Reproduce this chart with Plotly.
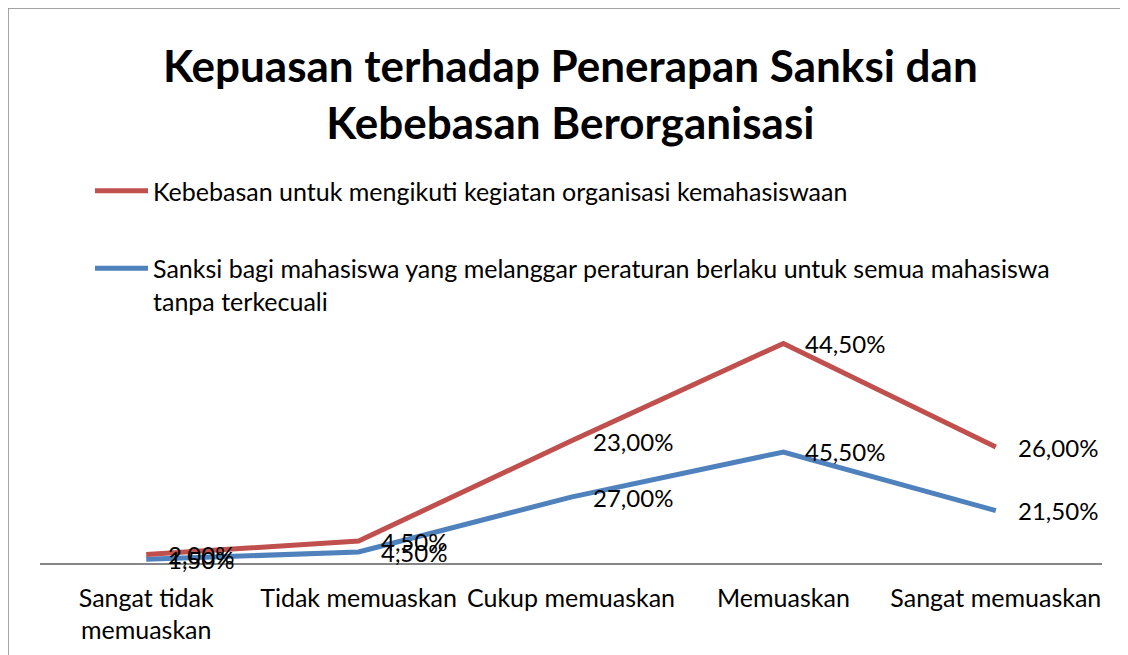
import plotly.graph_objects as go

categories = ["Sangat tidak<br>memuaskan", "Tidak memuaskan", "Cukup memuaskan", "Memuaskan", "Sangat memuaskan"]
series_blue_name = "Sanksi bagi mahasiswa yang melanggar peraturan berlaku untuk semua mahasiswa<br>tanpa terkecuali"
series_red_name = "Kebebasan untuk mengikuti kegiatan organisasi kemahasiswaan"
blue_values = [1.5, 4.5, 27.0, 45.5, 21.5]
red_values = [2.0, 4.5, 23.0, 44.5, 26.0]
title_text = "Kepuasan terhadap Penerapan Sanksi dan<br>Kebebasan Berorganisasi"

BLUE = "#4F81BD"
RED = "#C0504D"
FONT = "Lato"
W, H = 1128, 655
OFF = 8  # page body margin

def px_x(p):
    return (p - OFF) / W

def px_y(p):
    return 1 - (p - OFF) / H

def fmt(v):
    return f"{v:.2f}".replace(".", ",") + "%"

fig = go.Figure()
fig.add_trace(go.Scatter(
    x=categories, y=blue_values, name=series_blue_name, mode="lines",
    stackgroup="s", fill="none", line=dict(color=BLUE, width=5),
    legendgroup="b", legendrank=2, hoverinfo="skip",
))
fig.add_trace(go.Scatter(
    x=categories, y=red_values, name=series_red_name, mode="lines",
    stackgroup="s", fill="none", line=dict(color=RED, width=5),
    legendgroup="r", legendrank=1, hoverinfo="skip",
))

annotations = [dict(x=px_x(570), y=px_y(37), xref="paper", yref="paper", text="<b>" + title_text + "</b>",
                    showarrow=False, xanchor="center", yanchor="top",
                    font=dict(family=FONT, size=44, color="black"))]
cum_red = [b + r for b, r in zip(blue_values, red_values)]
for cat, b, r, cr in zip(categories, blue_values, red_values, cum_red):
    annotations.append(dict(x=cat, y=b, xref="x", yref="y", text=fmt(b), showarrow=False,
                            xanchor="left", yanchor="middle", xshift=20,
                            font=dict(family=FONT, size=24, color="black")))
    annotations.append(dict(x=cat, y=cr, xref="x", yref="y", text=fmt(r), showarrow=False,
                            xanchor="left", yanchor="middle", xshift=20,
                            font=dict(family=FONT, size=24, color="black")))

fig.update_layout(
    width=W, height=H,
    margin=dict(l=0, r=0, t=0, b=0),
    paper_bgcolor="white", plot_bgcolor="white",
    font=dict(family=FONT, size=25, color="black"),
    showlegend=True,
    legend=dict(x=px_x(90), y=px_y(168), xanchor="left", yanchor="top",
                traceorder="grouped", tracegroupgap=42, valign="top", itemwidth=53,
                font=dict(family=FONT, size=25, color="black"),
                bgcolor="rgba(0,0,0,0)"),
    xaxis=dict(domain=[px_x(40), px_x(1102)], type="category", range=[-0.5, 4.5],
               showline=True, linecolor="#868686", linewidth=1.5, showgrid=False,
               zeroline=False, ticks="", ticklabelstandoff=12,
               tickfont=dict(family=FONT, size=25, color="black")),
    yaxis=dict(domain=[px_y(563), px_y(319)], range=[0, 100], visible=False),
    annotations=annotations,
    shapes=[dict(type="rect", xref="paper", yref="paper", x0=0.0, x1=1.02,
                 y0=-0.02, y1=1.0, line=dict(color="#878787", width=1.5),
                 fillcolor="rgba(0,0,0,0)", layer="below")],
)

fig.write_html("out.html")
